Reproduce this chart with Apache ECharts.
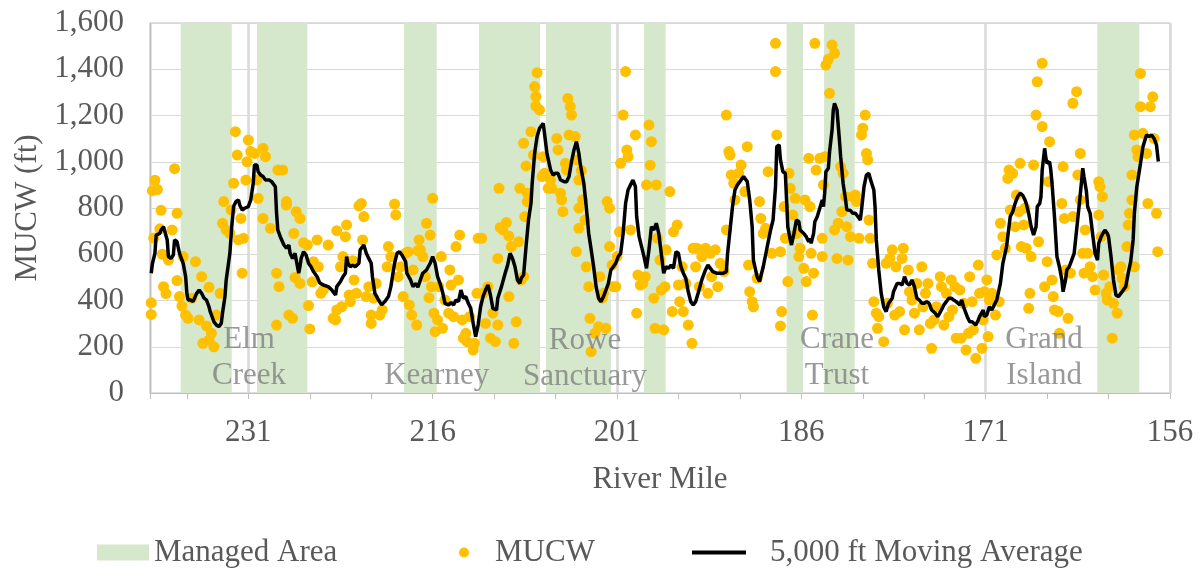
<!DOCTYPE html>
<html><head><meta charset="utf-8">
<script src="https://cdn.jsdelivr.net/npm/echarts@6/dist/echarts.min.js"></script>
<style>html,body{margin:0;padding:0;background:#fff}#c{width:1201px;height:569px}</style>
</head><body><div id="c"></div>
<script>
// ---- data ----
const xMinMile = 156, xMaxMile = 239;
const yMin = 0, yMax = 1600, yStep = 200;
const bandStart = [236.5, 230.3, 218.33, 212.23, 206.78, 198.8, 187.19, 184.15, 161.91];
const bandEnd   = [232.35, 226.2, 215.67, 207.26, 201.5, 197.04, 185.89, 181.66, 158.5];
const siteNames  = ['Elm\nCreek', 'Kearney', 'Rowe\nSanctuary', 'Crane\nTrust', 'Grand\nIsland'];
const siteMiles  = [230.94, 215.67, 203.6, 183.1, 166.25];
const siteValues = [154, 74, 146, 154, 154];
const mucw = [
[238.9,390],[238.9,340],[238.8,875],[238.6,920],[238.4,880],[238.1,790],[238.7,670],[238.2,710],[238.0,600],[237.9,460],[237.7,430],[237.5,575],[237.2,705],[237.0,970],[236.8,777],[236.8,486],[236.6,417],[236.4,376],[236.3,590],[236.1,337],[235.9,323],[235.6,410],[235.3,568],[235.0,316],[234.8,503],[234.7,215],[234.4,290],[234.2,229],[234.2,457],[234.0,258],[233.8,200],[233.6,337],[233.3,431],[233.1,734],[233.0,828],[232.8,705],[232.5,690],[232.4,791],[232.2,907],[232.05,1130],[231.9,1029],[231.8,662],[231.6,755],[231.5,518],[231.4,669],[231.2,921],[231.0,1094],[231.1,1000],[230.8,1044],[230.5,1036],[230.3,921],[230.2,842],[229.8,1058],[229.6,1022],[229.8,755],[229.2,712],[228.7,518],[228.7,294],[228.5,460],[228.6,964],[228.2,964],[227.9,828],[227.9,813],[227.7,337],[227.4,323],[227.3,690],[227.2,500],[227.1,784],[226.8,755],[226.8,474],[226.5,650],[226.2,640],[226.1,378],[226.0,277],[225.8,481],[225.7,568],[225.4,662],[225.3,546],[225.1,431],[224.9,445],[224.5,640],[224.1,323],[223.9,316],[223.8,702],[223.8,359],[223.5,546],[223.4,373],[223.3,590],[223.1,676],[223.0,727],[222.8,424],[222.7,395],[222.5,572],[222.4,489],[222.2,431],[222.0,809],[221.8,820],[221.6,763],[221.7,662],[221.4,417],[221.2,460],[221.0,301],[221.0,337],[220.8,410],[220.6,474],[220.3,337],[220.1,359],[219.7,546],[219.6,633],[219.4,590],[219.1,817],[219.0,770],[218.8,503],
[218.6,546],[218.4,417],[218.2,604],[218.0,610],[217.9,381],[217.7,337],[217.6,532],[217.3,294],[217.2,616],[217.1,662],[217.0,620],[216.8,590],[216.6,503],[216.5,734],[216.3,412],[216.2,683],[216.1,460],[216.0,842],[215.9,345],[215.8,265],[215.6,316],[215.5,460],[215.3,590],[215.2,280],[215.0,402],[214.7,345],[214.6,532],[214.5,467],[214.3,330],[214.1,633],[213.9,489],[213.8,683],[213.6,316],[213.5,237],[213.3,258],[213.2,222],[213.0,330],[212.7,186],[212.6,215],[212.4,431],[212.3,669],[212.0,669],[211.9,431],[211.7,301],[211.5,460],[211.3,237],[211.1,345],[210.9,222],[210.7,294],[210.7,582],[210.6,885],[210.5,716],[210.3,705],[210.0,737],[209.8,417],[209.8,679],[209.6,633],[209.4,215],[209.2,308],[209.0,654],[208.9,885],[208.8,489],[208.6,503],[208.5,763],[208.3,828],[208.3,864],[208.4,982],[208.6,1080],[208.0,1130],[207.8,1029],[207.6,1241],[207.6,1282],[207.5,1385],[207.7,1325],[207.3,1224],[207.0,1022],[207.1,936],[206.9,950],[206.6,885],[206.4,921],[206.3,885],[205.9,1101],[205.8,1051],[205.6,864],[205.5,835],[205.4,784],[205.2,993],[205.1,964],[205.0,1274],[204.8,1238],[204.7,1202],[204.9,1116],[204.4,1109],[204.3,1008],[204.1,921],[204.1,799],[203.9,962],[203.8,835],[204.1,712],[204.3,611],[203.6,748],[203.5,546],[203.3,460],[203.2,323],[203.1,179],[202.8,258],[202.5,287],[202.4,503],[202.2,410],[202.1,431],[201.9,280],[201.8,828],[201.6,799],[201.6,633],[201.4,553],[201.3,460],[201.1,460],[201.0,590],[200.8,697],[200.7,993],[200.5,1202],[200.3,1390],[200.2,1051],[200.1,1022],[199.9,705],[199.5,1116],[199.4,345],[199.3,510],[199.1,467],[198.9,474],[198.7,503],[198.6,900],[198.4,1159],[198.3,985],[198.2,1087],[198.0,410],[197.9,280],[197.8,900],[197.7,669],[197.5,575],[197.4,445],[197.2,273],[197.1,460],[197.0,619],[196.7,871],[196.5,352],[196.4,697],[196.1,727],[196.0,467],[195.9,395],[195.7,546],[195.6,352],[195.4,474],[195.2,294],[194.9,215],[194.8,626],[194.6,546],[194.5,626],[194.3,460],[194.1,590],[193.8,626],[193.6,431],[193.4,604],[193.3,503],[193.0,619],[192.8,460],[192.6,561],[192.3,525],[192.1,1202],[192.1,705],[191.9,1044],[191.8,1029],[191.7,943],[191.5,907],[191.4,835],[191.1,950],[190.9,986],[190.6,871],[190.4,1065],[190.3,553],[190.2,438],[190.0,395],[189.9,373],[189.6,496],[189.4,828],[189.3,755],[189.1,690],[188.9,712],[188.7,957],[188.4,604],[188.1,1512],[188.1,1390],[188.0,1116],
[187.7,611],[187.6,352],[187.7,290],[187.4,806],[187.3,669],[187.1,482],[187.0,950],[186.9,885],[186.7,770],[186.5,842],[186.4,690],[186.2,590],[186.1,626],[185.8,539],[185.7,835],[185.6,482],[185.4,1015],[185.3,806],[185.2,604],[185.1,337],[185.0,518],[184.9,1512],[184.8,964],[184.5,1015],[184.3,669],[184.3,590],[184.2,900],[184.1,1022],[184.0,1418],[183.8,1443],[183.5,1505],[183.3,1469],[183.7,1296],[183.3,705],[183.1,582],[183.0,734],[182.8,979],[182.7,784],[182.6,950],[182.4,849],[182.3,719],[182.2,575],[182.0,676],[181.8,849],[181.6,856],[181.5,828],[181.3,669],[181.1,1116],[181.0,1145],[180.8,1202],[180.7,1036],[180.6,1008],[180.5,748],[180.4,669],[180.2,561],[180.1,395],[179.9,345],[179.8,280],[179.7,330],[179.3,222],[179.1,561],[179.0,388],[178.8,582],[178.6,619],[178.4,337],[178.3,546],[178.0,352],[177.8,582],[177.7,626],[177.6,273],[177.3,532],[177.2,438],[177.0,402],[176.8,345],[176.6,474],[176.4,273],[176.2,546],[176.1,373],[175.9,431],[175.7,474],[175.5,301],[175.4,193],[175.2,316],[175.0,373],[174.7,503],[174.6,460],[174.4,294],[174.2,431],[174.0,330],[173.8,489],[173.7,359],[173.5,460],[173.4,237],[173.1,445],[173.0,237],[172.8,388],[172.6,186],[172.4,258],[172.3,503],[172.1,395],[172.0,273],[171.8,150],[171.6,553],[171.5,431],[171.3,193],[171.2,316],[171.1,438],[170.9,489],[170.8,244],[170.7,402],[170.5,431],[170.2,337],[170.1,597],[169.9,395],[169.8,734],[169.6,676],[169.4,626],[169.2,928],[169.1,964],[169.0,791],[168.8,950],[168.6,719],[168.5,856],[168.3,784],[168.2,993],[168.1,633],[167.9,727],[167.8,799],[167.7,626],[167.4,431],[167.3,590],[167.5,366],[167.1,986],[166.9,1202],[166.8,1346],[166.7,654],[166.4,1152],[166.4,1426],[166.2,460],[166.0,568],[165.9,914],[165.8,1087],[165.6,489],[165.5,417],[165.4,359],[165.1,352],[165.0,258],[164.8,820],[164.7,979],[164.6,755],[164.5,532],[164.3,323],[164.1,518],[163.9,763],[163.9,1253],[163.6,1303],[163.5,943],[163.3,1036],[163.3,835],[163.1,604],[163.0,518],[162.9,705],[162.7,604],[162.5,546],[162.3,503],[162.1,445],[161.8,914],[161.7,892],[161.5,849],[161.8,770],[161.6,676],[161.4,510],[161.2,431],[161.1,402],[160.9,460],[160.7,237],[160.6,388],[160.3,345],[160.2,532],[160.0,546],[159.9,496],[159.7,460],[159.5,633],[159.4,727],[159.3,777],[159.1,835],[159.1,943],[158.9,546],[158.9,1116],[158.7,1051],[158.6,1022],[158.4,1382],[158.4,1238],[158.2,1123],[157.9,1036],[157.8,820],[157.6,1238],[157.4,1281],[157.3,1101],[157.1,777],[157.0,611]
];
const movingAvg = [
[238.9,518],[238.8,560],[238.6,604],[238.5,683],[238.2,690],[238.1,705],[237.9,719],[237.6,662],[237.5,590],[237.3,582],[237.1,597],[237.0,662],[236.8,654],[236.6,604],[236.3,561],[236.1,503],[236.0,431],[235.9,402],[235.7,402],[235.5,395],[235.2,431],[235.0,445],[234.8,431],[234.6,410],[234.4,402],[234.2,373],[234.1,352],[233.8,308],[233.6,294],[233.4,287],[233.2,301],[233.1,345],[232.9,417],[232.8,489],[232.5,604],[232.35,719],[232.2,806],[232.0,828],[231.8,835],[231.7,813],[231.5,791],[231.3,799],[231.0,806],[230.8,835],[230.6,907],[230.5,986],[230.3,986],[230.2,957],[230.0,943],[229.8,936],[229.6,921],[229.5,928],[229.3,921],[229.1,914],[229.0,914],[228.8,892],[228.7,777],[228.6,705],[228.4,676],[228.1,640],[227.9,626],[227.7,640],[227.6,604],[227.4,582],[227.2,604],[226.9,518],[226.8,546],[226.7,582],[226.5,611],[226.3,597],[226.1,561],[225.9,546],[225.7,525],[225.4,503],[225.2,477],[224.9,467],[224.5,460],[224.2,445],[223.9,424],[223.8,460],[223.5,482],[223.3,503],[223.1,518],[223.0,590],[222.9,561],[222.7,546],[222.5,553],[222.3,546],[222.0,561],[221.9,619],[221.6,640],[221.4,604],[221.2,582],[221.0,561],[220.9,503],[220.7,431],[220.4,402],[220.15,381],[219.9,395],[219.6,417],[219.4,460],[219.1,561],[218.9,604],
[218.7,611],[218.5,597],[218.2,568],[218.1,518],[217.8,489],[217.6,460],[217.35,474],[217.2,457],[217.0,489],[216.8,518],[216.5,532],[216.2,561],[216.0,590],[215.8,561],[215.6,503],[215.4,474],[215.2,438],[215.0,388],[214.7,381],[214.5,391],[214.3,381],[214.1,402],[213.9,395],[213.7,445],[213.5,410],[213.3,417],[213.1,388],[212.9,366],[212.7,301],[212.5,244],[212.3,294],[212.1,373],[211.9,417],[211.7,445],[211.5,467],[211.3,424],[211.1,366],[210.8,359],[210.7,410],[210.4,460],[210.1,518],[209.9,553],[209.7,604],[209.5,582],[209.3,546],[209.1,489],[208.9,474],[208.8,496],[208.6,510],[208.4,633],[208.2,748],[208.0,820],[207.9,907],[207.7,1037],[207.5,1109],[207.3,1145],[207.0,1166],[206.9,1123],[206.7,1036],[206.4,964],[206.2,943],[206.0,950],[205.8,950],[205.6,921],[205.3,914],[205.1,914],[204.9,936],[204.7,1000],[204.5,1051],[204.3,1087],[204.1,1036],[204.0,993],[203.7,907],[203.5,806],[203.3,690],[203.1,619],[202.9,546],[202.7,460],[202.5,410],[202.3,395],[202.1,417],[201.9,445],[201.7,474],[201.5,532],[201.3,546],[201.1,561],[200.9,590],[200.7,604],[200.5,690],[200.3,820],[200.1,878],[199.9,900],[199.7,921],[199.5,892],[199.4,763],[199.2,676],[199.0,633],[198.8,590],[198.6,539],[198.4,619],[198.2,719],[198.0,705],[197.8,734],[197.6,690],[197.4,604],[197.2,518],[197.0,546],[196.8,539],[196.6,553],[196.4,539],[196.2,611],[196.0,604],[195.8,546],[195.6,518],[195.4,496],[195.2,438],[195.0,395],[194.8,381],[194.6,395],[194.4,431],[194.1,489],[193.8,532],[193.6,553],[193.4,539],[193.2,525],[192.9,518],[192.6,518],[192.35,518],[192.1,525],[192.0,604],[191.8,705],[191.6,806],[191.4,878],[191.2,900],[191.0,914],[190.9,921],[190.7,936],[190.4,914],[190.2,835],[190.0,719],[189.9,575],[189.6,503],[189.4,482],
[189.1,546],[188.8,626],[188.5,705],[188.3,748],[188.1,892],[188.0,1065],[187.8,1073],[187.7,1008],[187.5,957],[187.3,950],[187.2,835],[187.1,719],[186.9,662],[186.8,640],[186.6,690],[186.4,748],[186.2,741],[186.1,705],[185.8,690],[185.6,676],[185.4,654],[185.3,669],[185.2,647],[185.0,690],[184.9,741],[184.7,763],[184.5,799],[184.3,835],[184.2,806],[184.1,864],[184.0,957],[183.8,972],[183.7,1044],[183.5,1137],[183.4,1224],[183.3,1253],[183.1,1224],[182.9,1094],[182.8,1022],[182.6,907],[182.4,835],[182.3,792],[182.0,789],[181.8,777],[181.6,777],[181.4,763],[181.2,748],[181.1,792],[180.9,892],[180.7,943],[180.5,950],[180.4,928],[180.1,878],[180.0,806],[179.9,662],[179.7,532],[179.5,431],[179.3,373],[179.1,352],[178.9,388],[178.6,410],[178.5,438],[178.2,474],[178.0,474],[177.8,467],[177.6,503],[177.4,474],[177.2,467],[177.0,489],[176.8,460],[176.6,410],[176.4,402],[176.2,388],[176.0,388],[175.8,395],[175.6,388],[175.4,359],[175.1,345],[174.9,330],[174.8,338],[174.6,359],[174.4,381],[174.2,395],[174.0,410],[173.8,410],[173.6,402],[173.4,395],[173.1,381],[172.95,402],[172.8,373],[172.5,330],[172.3,308],[172.1,308],[172.0,316],[171.8,294],[171.6,316],[171.5,330],[171.2,359],[171.1,330],[170.9,338],[170.7,373],[170.5,359],[170.3,381],[170.1,402],[169.95,410],[169.8,474],[169.6,561],[169.3,633],[169.0,763],[168.8,784],[168.6,820],[168.4,849],[168.2,864],[168.0,856],[167.8,835],[167.7,820],[167.5,777],[167.3,719],[167.1,683],[166.9,719],[166.8,806],[166.6,820],[166.5,849],[166.4,964],[166.2,1058],[166.1,1015],[166.0,993],[165.8,1000],[165.7,964],[165.6,907],[165.4,763],[165.2,590],[165.0,546],[164.8,489],[164.7,438],[164.5,489],[164.4,532],[164.2,546],[164.0,575],[163.8,604],[163.6,705],[163.4,806],[163.2,914],[163.1,972],[163.0,936],[162.8,871],[162.7,806],[162.5,777],[162.3,690],[162.1,604],[161.9,575],[161.8,647],[161.6,676],[161.3,705],[161.1,690],[161.0,676],[160.8,590],[160.6,489],[160.4,424],[160.2,417],[160.0,431],[159.8,445],[159.6,460],[159.4,518],[159.2,568],[159.0,662],[158.9,777],[158.7,892],[158.4,993],[158.2,1065],[158.0,1101],[157.9,1116],[157.7,1109],[157.5,1116],[157.3,1101],[157.1,1073],[156.95,1001]
];

// ---- styles ----
const FONT = 'Liberation Serif';
const TXT = '#595959';
const GREEN = '#d5e8cb';
const GOLD = '#ffc000';

const chart = echarts.init(document.getElementById('c'), null, {renderer: 'canvas'});
const xCommon = {type: 'value', min: xMinMile, max: xMaxMile, inverse: true, position: 'bottom', gridIndex: 0};
chart.setOption({
  animation: false,
  backgroundColor: '#fff',
  grid: {left: 150, right: 31, top: 23, bottom: 176, show: true, borderColor: '#bfbfbf', borderWidth: 1, containLabel: false},
  xAxis: [
    Object.assign({}, xCommon, {
      interval: 5,
      axisLine: {show: true, lineStyle: {color: '#bfbfbf', width: 1}},
      axisTick: {show: true, length: 6, lineStyle: {color: '#bfbfbf', width: 1}},
      axisLabel: {show: false},
      splitLine: {show: false}
    }),
    Object.assign({}, xCommon, {
      interval: 15,
      axisLine: {show: false},
      axisTick: {show: false},
      axisLabel: {show: true, fontFamily: FONT, fontSize: 31, color: TXT, margin: 24,
        formatter: v => (v === xMaxMile ? '' : String(v))},
      splitLine: {show: true, lineStyle: {color: '#d9d9d9', width: 2.5}},
      name: 'River Mile', nameLocation: 'middle', nameGap: 71,
      nameTextStyle: {fontFamily: FONT, fontSize: 31, color: TXT}
    })
  ],
  yAxis: {
    type: 'value', min: yMin, max: yMax, interval: yStep,
    axisLine: {show: true, lineStyle: {color: '#bfbfbf'}},
    axisTick: {show: false},
    axisLabel: {fontFamily: FONT, fontSize: 31, color: TXT, margin: 26,
      formatter: v => v.toLocaleString('en-US')},
    splitLine: {show: true, lineStyle: {color: '#d9d9d9', width: 1}},
    name: 'MUCW (ft)', nameLocation: 'middle', nameRotate: 90, nameGap: 100,
    nameTextStyle: {fontFamily: FONT, fontSize: 31, color: TXT}
  },
  legend: [
    {data: ['Managed Area'], left: 97, top: 537, padding: 0, itemWidth: 52, itemHeight: 16, icon: 'rect',
     selectedMode: false, textStyle: {fontFamily: FONT, fontSize: 31, color: TXT}},
    {data: ['MUCW'], left: 459, top: 537, padding: 0, itemWidth: 10, itemHeight: 10, icon: 'circle',
     selectedMode: false, textStyle: {fontFamily: FONT, fontSize: 31, color: TXT, padding: [0, 0, 0, 21]}},
    {data: ['5,000 ft Moving Average'], left: 692, top: 537, padding: 0, itemWidth: 54, itemHeight: 4, icon: 'rect',
     selectedMode: false, textStyle: {fontFamily: FONT, fontSize: 31, color: TXT, padding: [0, 0, 0, 19]}}
  ],
  series: [
    {
      name: 'Managed Area', type: 'line', data: [], xAxisIndex: 0, yAxisIndex: 0,
      itemStyle: {color: GREEN}, lineStyle: {color: GREEN}, silent: true, z: 1,
      markArea: {silent: true, itemStyle: {color: GREEN, opacity: 1},
        data: bandStart.map((s, i) => [{xAxis: s}, {xAxis: bandEnd[i]}])}
    },
    {
      name: 'MUCW', type: 'scatter', data: mucw, xAxisIndex: 0, symbol: 'circle', symbolSize: 11,
      itemStyle: {color: GOLD, opacity: 1}, silent: true, z: 3
    },
    {
      name: '5,000 ft Moving Average', type: 'line', data: movingAvg, xAxisIndex: 0, showSymbol: false,
      symbol: 'none', lineStyle: {color: '#000', width: 3.5}, itemStyle: {color: '#000'}, silent: true, z: 4
    },
    {
      name: 'sites', type: 'scatter', xAxisIndex: 0, symbol: 'circle', symbolSize: 2, silent: true, z: 5,
      data: siteMiles.map((m, i) => [m, siteValues[i], siteNames[i]]),
      itemStyle: {color: 'rgba(0,0,0,0)'},
      label: {show: true, position: 'inside', formatter: p => p.data[2], fontFamily: FONT, fontSize: 31,
        lineHeight: 36, color: '#7f7f7f', align: 'center', verticalAlign: 'middle'}
    }
  ]
});
</script></body></html>
